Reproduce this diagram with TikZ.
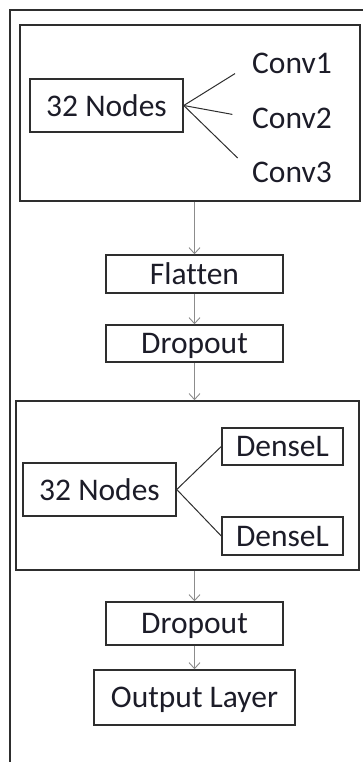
\documentclass[tikz,border=0pt]{standalone}
\usepackage{fontspec}
\setmainfont{Carlito}[Ligatures=NoCommon]
\usetikzlibrary{arrows.meta,positioning}
\definecolor{boxline}{HTML}{2E2E2E}
\definecolor{arrowgray}{HTML}{8C8C8C}
\definecolor{labeltext}{HTML}{1C1C28}

\begin{document}
\begin{tikzpicture}[
  x=1pt,y=-1pt,
  every node/.style={font=\fontsize{31.5}{37}\selectfont,text=labeltext,text depth=0pt},
  blk/.style={rectangle,draw=boxline,line width=1.6pt,inner sep=0pt},
  lyr/.style={rectangle,draw=boxline,line width=1.5pt,inner sep=0pt},
  arr/.style={draw=arrowgray,line width=0.9pt,-{Straight Barb[length=6pt,width=11pt]}},
  link/.style={draw=boxline,line width=1pt}
]
\useasboundingbox (0,0) rectangle (362,762);
\draw[boxline,line width=1.8pt] (366,10) -- (10,10) -- (10,766);
\node[blk,minimum width=340,minimum height=176] (convblk) at (190,113) {};
\node[lyr,minimum width=153,minimum height=53] (n1) at (106.5,105.5) {32 Nodes};
\node[inner sep=0pt,anchor=west] (c1) at (252,63) {Conv1};
\node[inner sep=0pt,anchor=west] (c2) at (252,118) {Conv2};
\node[inner sep=0pt,anchor=west] (c3) at (252,172) {Conv3};
\draw[link,shorten >=20pt] (n1.east) -- (c1.west);
\draw[link,shorten >=20pt] (n1.east) -- (c2.west);
\draw[link,shorten >=20pt] (n1.east) -- (c3.west);
\node[lyr,minimum width=177,minimum height=38] (flat) at (194.5,274) {Flatten};
\node[lyr,minimum width=177,minimum height=37] (drop1) at (194.5,343.5) {Dropout};
\node[blk,minimum width=343,minimum height=169] (denseblk) at (187.5,485.5) {};
\node[lyr,minimum width=153,minimum height=53] (n2) at (99.5,489.5) {32 Nodes};
\node[lyr,minimum width=121,minimum height=37] (d1) at (282.5,446.5) {DenseL};
\node[lyr,minimum width=121,minimum height=38] (d2) at (282.5,536) {DenseL};
\draw[link] (n2.east) -- (d1.west);
\draw[link] (n2.east) -- (d2.west);
\node[lyr,minimum width=177,minimum height=43] (drop2) at (194.5,623.5) {Dropout};
\node[lyr,minimum width=201,minimum height=55] (out) at (194.5,697.5) {Output Layer};
\draw[arr] (convblk.south -| flat.north) -- (flat.north);
\draw[arr] (flat.south) -- (drop1.north);
\draw[arr] (drop1.south) -- (denseblk.north -| drop1.south);
\draw[arr] (denseblk.south -| drop2.north) -- (drop2.north);
\draw[arr] (drop2.south) -- (out.north);
\end{tikzpicture}
\end{document}
